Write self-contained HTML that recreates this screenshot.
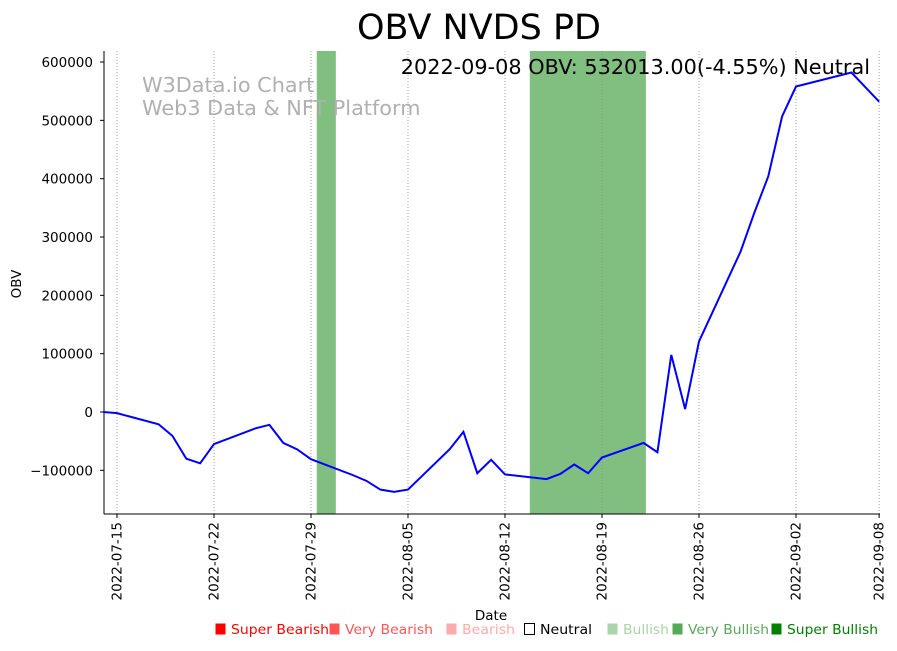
<!DOCTYPE html>
<html><head><meta charset="utf-8"><style>
body{margin:0;background:#fff;}
svg{font-family:"DejaVu Sans","Liberation Sans",sans-serif;}
</style></head><body>
<svg id="chart" width="897" height="646" xmlns="http://www.w3.org/2000/svg"></svg>
<script>
const dates=["2022-07-14","2022-07-15","2022-07-18","2022-07-19","2022-07-20","2022-07-21","2022-07-22","2022-07-25","2022-07-26","2022-07-27","2022-07-28","2022-07-29","2022-08-01","2022-08-02","2022-08-03","2022-08-04","2022-08-05","2022-08-08","2022-08-09","2022-08-10","2022-08-11","2022-08-12","2022-08-15","2022-08-16","2022-08-17","2022-08-18","2022-08-19","2022-08-22","2022-08-23","2022-08-24","2022-08-25","2022-08-26","2022-08-29","2022-08-30","2022-08-31","2022-09-01","2022-09-02","2022-09-06","2022-09-08"];
const obv=[0,-2000,-21000,-41000,-80000,-88000,-55000,-28000,-22000,-53000,-64000,-81000,-108000,-118000,-133000,-137000,-133000,-64000,-34000,-105000,-82000,-107000,-115000,-106000,-90000,-105000,-78000,-53000,-69000,98000,5000,121000,275000,342000,404000,507000,558000,582000,532013];
const yTicks=[-100000,0,100000,200000,300000,400000,500000,600000];
const xTicks=["2022-07-15","2022-07-22","2022-07-29","2022-08-05","2022-08-12","2022-08-19","2022-08-26","2022-09-02","2022-09-08"];
const spanStarts=["2022-07-29T10:00","2022-08-13T19:00"];
const spanEnds=["2022-07-30T19:00","2022-08-22T04:00"];
const legendLabels=["Super Bearish","Very Bearish","Bearish","Neutral","Bullish","Very Bullish","Super Bullish"];
const legendColors=["#ff0000","#ff5555","#ffaaaa","#ffffff","#aad4aa","#55aa55","#008000"];

const NS="http://www.w3.org/2000/svg";
const svg=document.getElementById('chart');
const L=104,R=880,T=51,B=514;
const t0=Date.parse("2022-07-15T00:00Z"),DAY=86400000,PXD=13.857;
function xs(d){const s=d.length>10?d+"Z":d+"T00:00Z";return 117+(Date.parse(s)-t0)/DAY*PXD;}
function ys(v){return 412-v/100000*58.33;}
function el(tag,attrs,parent){const e=document.createElementNS(NS,tag);for(const k in attrs)e.setAttribute(k,attrs[k]);(parent||svg).appendChild(e);return e;}

spanStarts.forEach((s,i)=>{
  const r=el('rect',{x:xs(s),y:T,width:xs(spanEnds[i])-xs(s),height:B-T,fill:'#80bf80'});
  
  
});
xTicks.forEach(d=>{
  const x=xs(d);
  const g=el('line',{x1:x,x2:x,y1:T,y2:B,stroke:'#888','stroke-width':0.8,'stroke-dasharray':'1,2'});
  
  
  el('line',{x1:x,x2:x,y1:B,y2:B+4,stroke:'#000'});
  const t=el('text',{x:0,y:0,'font-size':13.5,'text-anchor':'end',transform:`translate(${x+4.5},${B+8}) rotate(-90)`});
  t.textContent=d;
  
  
});
yTicks.forEach(v=>{
  const y=ys(v);
  el('line',{x1:L-4,x2:L,y1:y,y2:y,stroke:'#000'});
  const t=el('text',{x:L-11,y:y+5,'font-size':13.5,'text-anchor':'end'});
  t.textContent=String(v).replace('-','\u2212');
  
  
});
el('line',{x1:L,x2:L,y1:T,y2:B,stroke:'#000'});
el('line',{x1:L,x2:R,y1:B,y2:B,stroke:'#000'});
const line=el('polyline',{points:dates.map((d,i)=>xs(d)+','+ys(obv[i])).join(' '),fill:'none',stroke:'#0000ff','stroke-width':2});


function txt(s,a,name){const t=el('text',a);t.textContent=s;return t;}
txt('OBV NVDS PD',{x:479,y:39,'font-size':35,'text-anchor':'middle'},'chart-title');
txt('2022-09-08 OBV: 532013.00(-4.55%) Neutral',{x:870,y:74,'font-size':20.8,'text-anchor':'end'},'latest-value-label');
txt('W3Data.io Chart',{x:142,y:92,'font-size':20.8,fill:'#b0b0b0'},'watermark-line1');
txt('Web3 Data & NFT Platform',{x:142,y:115,'font-size':20.8,fill:'#b0b0b0'},'watermark-line2');
txt('OBV',{x:0,y:0,'font-size':13.5,'text-anchor':'middle',transform:'translate(21,284) rotate(-90)'},'y-axis-title');
txt('Date',{x:491,y:620,'font-size':13.5,'text-anchor':'middle'},'x-axis-title');
const lx=[214,328,445,523,606,671,770];
const lw=[98,88,53,52,46,81,91];
legendLabels.forEach((lab,i)=>{
  const g=el('g',{});
  
  
  el('rect',{x:lx[i]+1.5,y:623.5,width:10,height:11,fill:legendColors[i],stroke:i==3?'#000':'none'},g);
  const t=el('text',{x:lx[i]+17,y:634,'font-size':13.5,fill:i==3?'#000':legendColors[i],textLength:lw[i],lengthAdjust:'spacingAndGlyphs'},g);
  t.textContent=lab;
});
</script>
</body></html>
